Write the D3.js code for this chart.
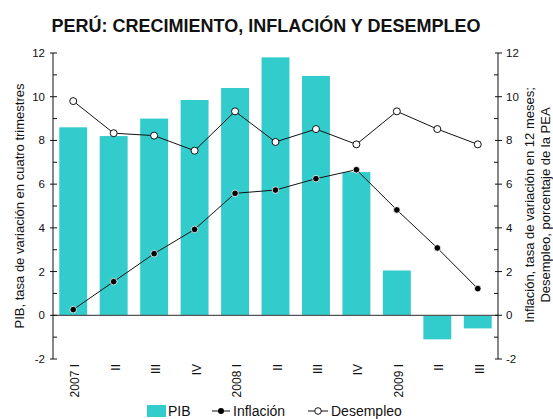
<!DOCTYPE html>
<html lang="es">
<head>
<meta charset="UTF-8">
<script src="https://cdn.jsdelivr.net/npm/d3@7"></script>
<style>
    body { margin: 0; background: #fff; }
    svg text { font-family: "Liberation Sans", Arial, sans-serif; fill: #111; }
</style>
</head>
<body>
<div id="chart"></div>
<script>
    const quarters = ["2007 I", "II", "III", "IV", "2008 I", "II", "III", "IV", "2009 I", "II", "III"];
    const pib = [8.6, 8.2, 9.0, 9.85, 10.4, 11.8, 10.95, 6.55, 2.05, -1.1, -0.6];
    const inflacion = [0.26, 1.54, 2.82, 3.93, 5.58, 5.73, 6.25, 6.66, 4.82, 3.08, 1.22];
    const desempleo = [9.8, 8.33, 8.22, 7.53, 9.33, 7.93, 8.52, 7.82, 9.33, 8.52, 7.82];
    const yTicks = [-2, 0, 2, 4, 6, 8, 10, 12];

    const width = 553, height = 419;
    const plot = { left: 53, right: 498, top: 53, bottom: 359 };

    const svg = d3.select("#chart").append("svg")
        .attr("width", width)
        .attr("height", height);

    const x = d3.scaleBand()
        .domain(quarters.map((d, i) => i))
        .range([plot.left, plot.right])
        .paddingInner(0.31)
        .paddingOuter(0.155);

    const y = d3.scaleLinear().domain([-2, 12]).range([plot.bottom, plot.top]);

    // title
    svg.append("text")
        .attr("x", 266).attr("y", 32)
        .attr("text-anchor", "middle")
        .style("font-weight", "bold")
        .style("font-size", "18px")
        .text("PERÚ: CRECIMIENTO, INFLACIÓN Y DESEMPLEO");

    // bars
    svg.selectAll("rect.bar")
        .data(pib)
        .enter().append("rect")
        .attr("class", "bar")
        .attr("x", (d, i) => x(i))
        .attr("width", x.bandwidth())
        .attr("y", d => y(Math.max(0, d)))
        .attr("height", d => Math.abs(y(d) - y(0)))
        .attr("fill", "#33cccc");

    // zero line
    svg.append("line")
        .attr("x1", plot.left).attr("x2", plot.right)
        .attr("y1", y(0)).attr("y2", y(0))
        .attr("stroke", "#555").attr("stroke-width", 1.2);

    // axes
    const minor = d3.range(-1, 12, 2);
    function drawAxis(xPos, side) {
        const g = svg.append("g").attr("transform", `translate(${xPos},0)`);
        g.append("line").attr("y1", y(-2)).attr("y2", y(12)).attr("stroke", "#111");
        g.selectAll("line.maj").data(yTicks).enter().append("line")
            .attr("x1", -3).attr("x2", 4)
            .attr("y1", d => y(d)).attr("y2", d => y(d))
            .attr("stroke", "#111");
        g.selectAll("line.min").data(minor).enter().append("line")
            .attr("x1", 0).attr("x2", side === "left" ? 4 : -4)
            .attr("y1", d => y(d)).attr("y2", d => y(d))
            .attr("stroke", "#111");
        g.selectAll("text").data(yTicks).enter().append("text")
            .attr("x", side === "left" ? -8 : 8)
            .attr("y", d => y(d) + 4)
            .attr("text-anchor", side === "left" ? "end" : "start")
            .style("font-size", "11.5px")
            .text(d => d);
    }
    drawAxis(plot.left, "left");
    drawAxis(plot.right, "right");

    // category labels
    svg.selectAll("text.cat")
        .data(quarters)
        .enter().append("text")
        .attr("class", "cat")
        .attr("transform", (d, i) => `translate(${x(i) + x.bandwidth() / 2 + 6},364) rotate(-90)`)
        .attr("text-anchor", "end")
        .style("font-size", "12px")
        .text(d => d);

    // axis titles
    svg.append("text")
        .attr("transform", "translate(24,206) rotate(-90)")
        .attr("text-anchor", "middle")
        .style("font-size", "13px")
        .text("PIB, tasa de variación en cuatro trimestres");
    svg.append("text")
        .attr("transform", "translate(534,205) rotate(-90)")
        .attr("text-anchor", "middle")
        .style("font-size", "13px")
        .text("Inflación, tasa de variación en 12 meses;");
    svg.append("text")
        .attr("transform", "translate(550,205) rotate(-90)")
        .attr("text-anchor", "middle")
        .style("font-size", "13px")
        .text("Desempleo, porcentaje de la PEA");

    const cx = i => x(i) + x.bandwidth() / 2;
    const line = d3.line().x((d, i) => cx(i)).y(d => y(d));

    // lines
    [desempleo, inflacion].forEach(s => {
        svg.append("path").datum(s)
            .attr("d", line)
            .attr("fill", "none")
            .attr("stroke", "#111")
            .attr("stroke-width", 1);
    });
    svg.selectAll("circle.des").data(desempleo).enter().append("circle")
        .attr("cx", (d, i) => cx(i)).attr("cy", d => y(d)).attr("r", 3.5)
        .attr("fill", "#fff").attr("stroke", "#111").attr("stroke-width", 1);
    svg.selectAll("circle.inf").data(inflacion).enter().append("circle")
        .attr("cx", (d, i) => cx(i)).attr("cy", d => y(d)).attr("r", 3.3)
        .attr("fill", "#000").attr("stroke", "#fff").attr("stroke-width", 0.8);

    // legend
    const lg = svg.append("g").style("font-size", "14px");
    lg.append("rect").attr("x", 147).attr("y", 405).attr("width", 19).attr("height", 12).attr("fill", "#33cccc");
    lg.append("text").attr("x", 168).attr("y", 415.5).text("PIB");
    lg.append("line").attr("x1", 212).attr("x2", 230).attr("y1", 411).attr("y2", 411).attr("stroke", "#111");
    lg.append("circle").attr("cx", 221).attr("cy", 411).attr("r", 3).attr("fill", "#000");
    lg.append("text").attr("x", 233).attr("y", 415.5).text("Inflación");
    lg.append("line").attr("x1", 308).attr("x2", 328).attr("y1", 411).attr("y2", 411).attr("stroke", "#111");
    lg.append("circle").attr("cx", 318).attr("cy", 411).attr("r", 3.3).attr("fill", "#fff").attr("stroke", "#111");
    lg.append("text").attr("x", 331).attr("y", 415.5).text("Desempleo");
</script>
</body>
</html>
